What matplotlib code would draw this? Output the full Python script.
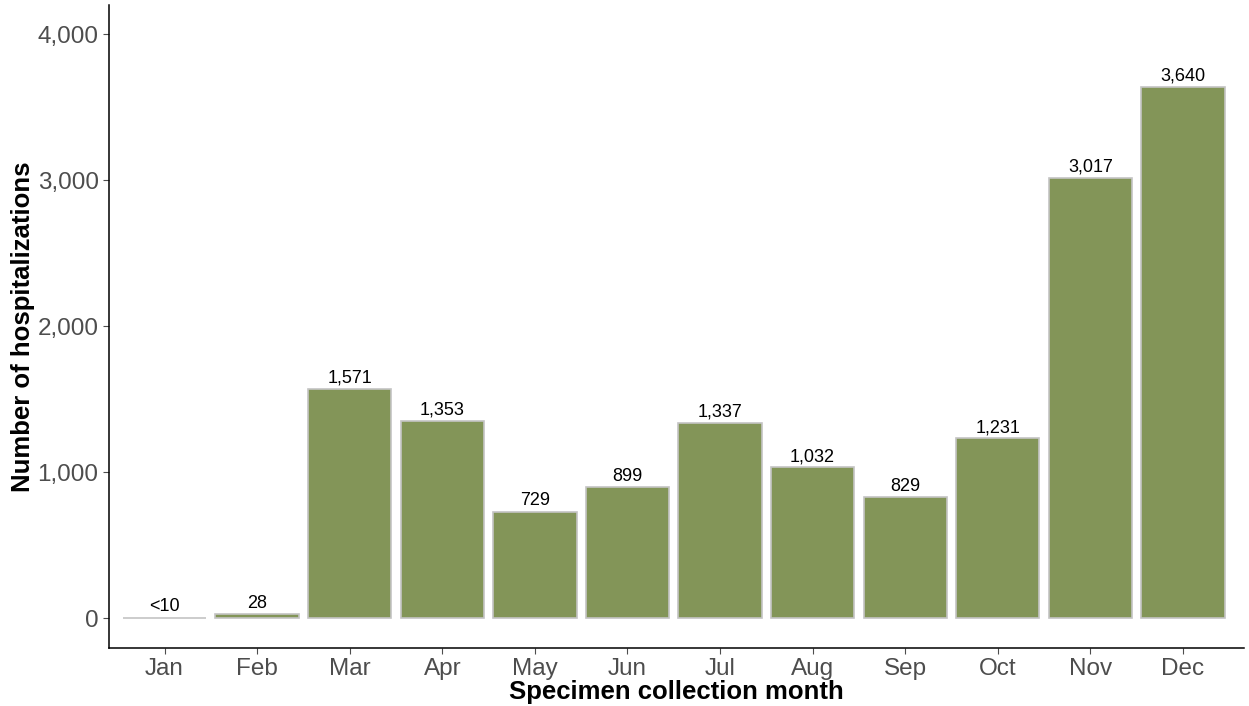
import matplotlib

matplotlib.use("Agg")
import matplotlib.pyplot as plt
from matplotlib.ticker import FuncFormatter

months = ["Jan", "Feb", "Mar", "Apr", "May", "Jun", "Jul", "Aug", "Sep", "Oct", "Nov", "Dec"]
hospitalizations = [3, 28, 1571, 1353, 729, 899, 1337, 1032, 829, 1231, 3017, 3640]
bar_labels = ["<10", "28", "1,571", "1,353", "729", "899", "1,337", "1,032", "829", "1,231", "3,017", "3,640"]
y_ticks = [0, 1000, 2000, 3000, 4000]

plt.rcParams["font.family"] = ["Liberation Sans", "DejaVu Sans"]

fig = plt.figure(figsize=(12.49, 7.06), dpi=100)
ax = fig.add_axes([109 / 1249, 58 / 706, (1244 - 109) / 1249, 643 / 706])

x = range(len(months))
ax.bar(x, hospitalizations, width=0.9, color="#839558", edgecolor="#c4c4c4", linewidth=1.2)
for xi, v, lab in zip(x, hospitalizations, bar_labels):
    ax.text(xi, v + 15, lab, ha="center", va="bottom", fontsize=13, color="black")

ax.set_xlim(-0.6, 11.66)
ax.set_ylim(-205, 4200)
ax.set_xticks(list(x))
ax.set_xticklabels(months)
ax.set_yticks(y_ticks)
ax.yaxis.set_major_formatter(FuncFormatter(lambda v, p: f"{int(v):,}"))
ax.tick_params(axis="both", labelsize=17.5, colors="#4d4d4d", length=4, width=0.8)
ax.tick_params(axis="x", pad=3)
for lab in ax.get_xticklabels() + ax.get_yticklabels():
    lab.set_color("#4d4d4d")

ax.spines["top"].set_visible(False)
ax.spines["right"].set_visible(False)
ax.spines["left"].set_linewidth(1.1)
ax.spines["bottom"].set_linewidth(1.1)

ax.set_xlabel("Specimen collection month", fontsize=18.5, fontweight="bold", labelpad=0)
ax.set_ylabel("Number of hospitalizations", fontsize=18.5, fontweight="bold", labelpad=2)

fig.savefig("out.png", dpi=100)
